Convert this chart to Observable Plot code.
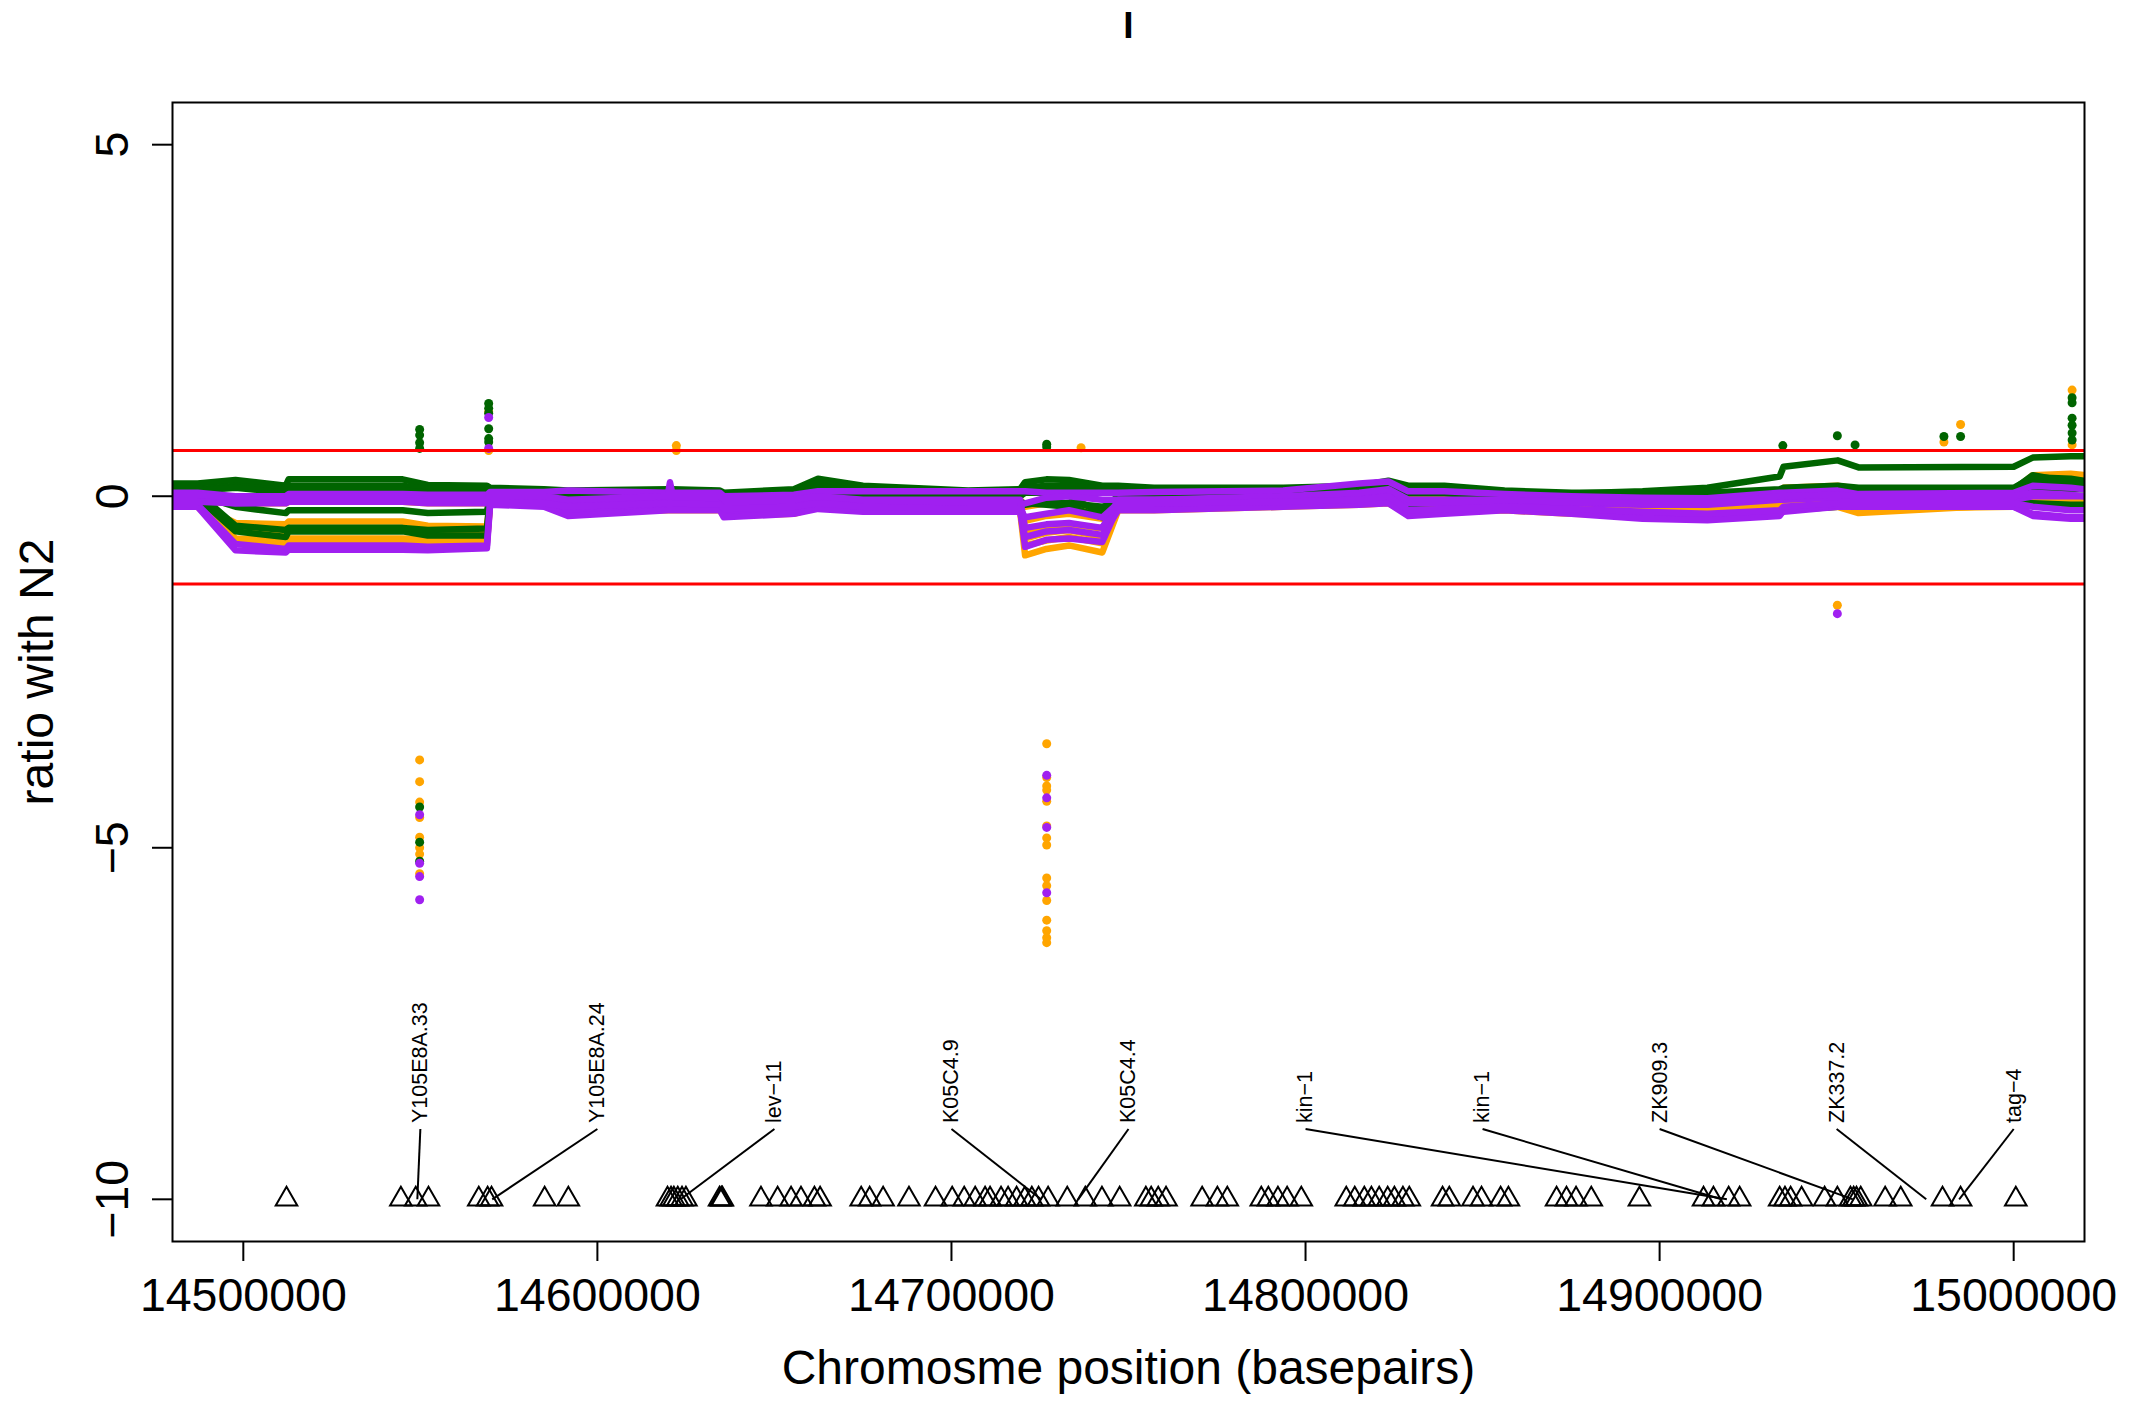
<!DOCTYPE html>
<html><head><meta charset="utf-8">
<script src="https://cdn.jsdelivr.net/npm/d3@7"></script>
<script src="https://cdn.jsdelivr.net/npm/@observablehq/plot@0.6"></script>
<style>html,body{margin:0;padding:0;background:#fff} svg{display:block}</style>
</head><body><div id="chart"></div>
<script>
// ---- data ----
const positions = [14480000, 14487100, 14497800, 14512000, 14512800, 14545000, 14552100, 14568800, 14569700, 14584900, 14591700,
 14620000, 14620500, 14621100, 14634600, 14635700, 14655500, 14662300, 14675000, 14704700, 14719400, 14720800,
 14726800, 14733200, 14742600, 14747100, 14757200, 14793700, 14815200, 14823400, 14829000, 14839200, 14856200,
 14875100, 14895200, 14913500, 14933900, 14935000, 14950300, 14956200, 15000000, 15005400, 15016100, 15020000];

const orangeA = [0.02, 0.02, -0.02, -0.02, 0.0, 0.0, -0.05, -0.05, 0.02, 0.0, -0.08,
 -0.05, -0.05, -0.05, -0.05, -0.12, -0.1, 0.05, 0.02, -0.05, -0.05, -0.15,
 -0.1, -0.1, -0.2, -0.05, -0.02, 0.0, 0.05, 0.12, 0.0, 0.0, 0.02,
 0.0, -0.02, -0.03, 0.05, 0.12, 0.15, 0.1, 0.08, 0.3, 0.32, 0.3];
const orangeB = [-0.12, -0.12, -0.38, -0.4, -0.36, -0.36, -0.42, -0.43, -0.08, -0.1, -0.2,
 -0.15, -0.15, -0.15, -0.15, -0.22, -0.2, -0.1, -0.12, -0.15, -0.15, -0.35,
 -0.28, -0.25, -0.32, -0.12, -0.1, -0.1, -0.08, -0.05, -0.15, -0.22, -0.12,
 -0.2, -0.2, -0.22, -0.18, -0.18, -0.15, -0.24, -0.12, -0.1, -0.12, -0.12];
const orangeC = [-0.05, -0.06, -0.45, -0.5, -0.48, -0.48, -0.5, -0.48, -0.05, -0.05, -0.12,
 -0.1, -0.1, -0.1, -0.1, -0.18, -0.15, -0.05, -0.05, -0.1, -0.1, -0.6,
 -0.52, -0.48, -0.58, -0.1, -0.08, -0.05, -0.02, 0.0, -0.1, -0.12, -0.08,
 -0.1, -0.1, -0.12, -0.1, -0.1, -0.05, -0.15, -0.1, -0.05, -0.05, -0.05];
const orangeD = [-0.15, -0.15, -0.65, -0.67, -0.66, -0.66, -0.67, -0.66, -0.12, -0.12, -0.22,
 -0.2, -0.2, -0.2, -0.2, -0.28, -0.25, -0.15, -0.15, -0.2, -0.22, -0.84,
 -0.75, -0.7, -0.8, -0.2, -0.2, -0.15, -0.12, -0.1, -0.25, -0.22, -0.2,
 -0.25, -0.27, -0.27, -0.22, -0.2, -0.12, -0.18, -0.15, -0.12, -0.15, -0.15];
const orangeE = [-0.08, -0.08, -0.1, -0.1, -0.08, -0.08, -0.1, -0.1, -0.08, -0.08, -0.15,
 -0.12, -0.12, -0.12, -0.12, -0.18, -0.15, -0.08, -0.1, -0.12, -0.12, -0.5,
 -0.44, -0.4, -0.46, -0.12, -0.12, -0.1, -0.08, -0.05, -0.15, -0.15, -0.1,
 -0.15, -0.18, -0.2, -0.15, -0.12, -0.08, -0.12, -0.1, -0.1, -0.1, -0.1];
const orangeF = [-0.1, -0.1, -0.6, -0.62, -0.6, -0.6, -0.62, -0.6, -0.1, -0.1, -0.18,
 -0.15, -0.15, -0.15, -0.15, -0.22, -0.2, -0.12, -0.12, -0.18, -0.18, -0.7,
 -0.63, -0.58, -0.67, -0.15, -0.15, -0.12, -0.1, -0.08, -0.2, -0.18, -0.15,
 -0.2, -0.22, -0.22, -0.18, -0.15, -0.1, -0.15, -0.12, -0.1, -0.12, -0.12];

const greenA = [0.18, 0.18, 0.23, 0.15, 0.24, 0.24, 0.16, 0.15, 0.12, 0.1, 0.08,
 0.1, 0.1, 0.1, 0.08, 0.05, 0.1, 0.25, 0.15, 0.08, 0.1, 0.2,
 0.24, 0.23, 0.15, 0.15, 0.12, 0.12, 0.15, 0.22, 0.15, 0.15, 0.08,
 0.05, 0.05, 0.05, 0.1, 0.12, 0.15, 0.12, 0.12, 0.27, 0.25, 0.22];
const greenB = [0.1, 0.1, 0.15, 0.08, 0.15, 0.15, 0.1, 0.1, 0.05, 0.05, 0.05,
 0.05, 0.05, 0.05, 0.05, 0.0, 0.05, 0.2, 0.08, 0.05, 0.05, 0.12,
 0.15, 0.15, 0.1, 0.1, 0.08, 0.08, 0.1, 0.15, 0.1, 0.1, 0.05,
 0.04, 0.07, 0.12, 0.28, 0.42, 0.51, 0.41, 0.42, 0.55, 0.57, 0.57];
const greenC = [0.0, 0.02, -0.15, -0.24, -0.2, -0.2, -0.24, -0.22, 0.0, 0.0, -0.05,
 -0.05, -0.05, -0.05, -0.05, -0.1, -0.1, 0.0, -0.05, -0.08, -0.08, -0.1,
 -0.12, -0.15, -0.3, -0.05, 0.0, 0.02, 0.02, 0.05, -0.05, -0.05, 0.0,
 -0.02, -0.05, -0.05, -0.02, 0.0, 0.02, -0.02, -0.02, 0.1, 0.1, 0.1];
const greenD = [-0.02, -0.02, -0.5, -0.58, -0.5, -0.5, -0.56, -0.56, -0.05, -0.05, -0.15,
 -0.1, -0.1, -0.1, -0.1, -0.2, -0.18, -0.05, -0.1, -0.12, -0.12, -0.12,
 -0.08, -0.1, -0.15, -0.1, -0.08, -0.05, -0.05, -0.02, -0.18, -0.2, -0.1,
 -0.2, -0.24, -0.28, -0.25, -0.2, -0.15, -0.12, -0.1, -0.1, -0.12, -0.12];
const greenE = [0.05, 0.05, -0.42, -0.48, -0.45, -0.45, -0.48, -0.46, 0.02, 0.0, -0.05,
 0.0, 0.0, 0.0, 0.0, -0.05, -0.03, 0.1, 0.02, 0.0, 0.0, 0.05,
 0.05, 0.0, -0.25, 0.02, 0.02, 0.05, 0.05, 0.1, 0.05, 0.05, 0.02,
 0.0, 0.02, 0.03, 0.08, 0.1, 0.12, 0.1, 0.1, 0.3, 0.2, 0.15];
const greenF = [0.08, 0.08, 0.12, 0.05, 0.08, 0.08, 0.05, 0.05, 0.0, 0.0, 0.0,
 0.02, 0.02, 0.02, 0.0, -0.03, 0.0, 0.15, 0.05, 0.02, 0.02, 0.05,
 0.1, 0.1, 0.05, 0.05, 0.05, 0.05, 0.08, 0.12, 0.08, 0.08, 0.02,
 0.0, 0.0, 0.0, 0.05, 0.05, 0.08, 0.05, 0.05, 0.2, 0.18, 0.15];

const purpleA = [0.05, 0.05, 0.0, 0.0, 0.03, 0.03, 0.02, 0.02, 0.06, 0.06, 0.08,
 0.05, 0.2, 0.05, 0.05, 0.0, 0.02, 0.07, 0.07, 0.07, 0.07, 0.07,
 0.05, 0.05, 0.05, 0.05, 0.06, 0.08, 0.18, 0.21, 0.07, 0.07, 0.03,
 0.0, -0.02, -0.03, 0.05, 0.05, 0.08, 0.03, 0.05, 0.15, 0.12, 0.1];
const purpleB = [-0.05, -0.05, -0.1, -0.1, -0.08, -0.08, -0.1, -0.1, -0.05, -0.05, -0.1,
 -0.08, 0.1, -0.08, -0.08, -0.12, -0.1, -0.05, -0.1, -0.12, -0.12, -0.1,
 -0.02, 0.0, -0.05, -0.05, -0.05, -0.03, 0.02, 0.05, -0.1, -0.1, -0.08,
 -0.1, -0.12, -0.12, -0.05, -0.05, -0.02, -0.05, -0.05, 0.0, 0.0, 0.0];
const purpleC = [-0.12, -0.12, -0.68, -0.75, -0.7, -0.7, -0.72, -0.7, -0.08, -0.1, -0.2,
 -0.15, 0.05, -0.15, -0.15, -0.22, -0.2, -0.15, -0.18, -0.2, -0.2, -0.72,
 -0.62, -0.6, -0.65, -0.15, -0.15, -0.12, -0.1, -0.05, -0.25, -0.2, -0.18,
 -0.22, -0.28, -0.32, -0.25, -0.22, -0.15, -0.15, -0.15, -0.25, -0.3, -0.3];
const purpleD = [-0.15, -0.15, -0.77, -0.8, -0.76, -0.76, -0.77, -0.74, -0.12, -0.15, -0.28,
 -0.2, -0.2, -0.2, -0.2, -0.3, -0.25, -0.18, -0.22, -0.22, -0.22, -0.58,
 -0.5, -0.48, -0.55, -0.2, -0.2, -0.15, -0.12, -0.1, -0.28, -0.25, -0.2,
 -0.25, -0.32, -0.34, -0.28, -0.2, -0.12, -0.15, -0.15, -0.28, -0.32, -0.32];
const purpleE = [0.02, 0.02, -0.05, -0.05, -0.02, -0.02, -0.05, -0.05, 0.0, 0.0, -0.05,
 0.0, 0.12, 0.0, 0.0, -0.05, -0.05, 0.0, -0.05, -0.05, -0.05, -0.45,
 -0.4, -0.38, -0.45, -0.05, -0.05, 0.0, 0.05, 0.1, -0.05, -0.05, -0.05,
 -0.08, -0.1, -0.1, 0.0, 0.0, 0.02, 0.0, 0.0, 0.05, 0.02, 0.0];
const purpleF = [-0.08, -0.08, -0.1, -0.08, -0.06, -0.06, -0.08, -0.08, -0.1, -0.1, -0.15,
 -0.1, -0.1, -0.1, -0.12, -0.18, -0.15, -0.1, -0.15, -0.18, -0.18, -0.3,
 -0.25, -0.2, -0.3, -0.1, -0.1, -0.08, -0.05, 0.0, -0.2, -0.18, -0.15,
 -0.18, -0.22, -0.25, -0.2, -0.15, -0.1, -0.1, -0.1, -0.15, -0.2, -0.2];

// outlier points
const orangeDotPos = [14549800,14549800,14549800,14549800,14549800,14549800,14549800,14549800,
 14569300,14569300, 14622300,14622300,
 14726900,14726900,14726900,14726900,14726900,14726900,14726900,14726900,14726900,14726900,14726900,14726900,14726900,14726900,14726900,
 14736600, 14950200, 14980300, 14985000, 15016500, 15016500];
const orangeDotVal = [-3.75,-4.06,-4.35,-4.57,-4.85,-5.0,-5.09,-5.37,
 0.65,1.2, 0.72,0.65,
 -3.52,-4.0,-4.12,-4.18,-4.34,-4.69,-4.86,-4.96,-5.43,-5.54,-5.75,-6.03,-6.18,-6.28,-6.35,
 0.69, -1.55, 0.77, 1.02, 1.51, 0.73];
const greenDotPos = [14549800,14549800,14549800,14549800,14549800,14549800,14549800,
 14569300,14569300,14569300,14569300,14569300,14569300,
 14726900,14726900, 14934800, 14950200, 14955200, 14980300, 14985000,
 15016500,15016500,15016500,15016500,15016500,15016500];
const greenDotVal = [0.95,0.87,0.76,0.68,-4.42,-4.92,-5.19,
 1.32,1.25,1.18,0.96,0.82,0.77,
 0.74,0.7, 0.72, 0.86, 0.73, 0.85, 0.85,
 1.4,1.33,1.11,1.01,0.9,0.8];
const purpleDotPos = [14549800,14549800,14549800,14549800, 14569300,14569300,
 14726900,14726900,14726900,14726900, 14950200];
const purpleDotVal = [-4.53,-5.22,-5.41,-5.74, 1.12,0.68, -3.97,-4.29,-4.71,-5.64, -1.67];

// threshold lines
const thresholds = [0.65, -1.25];

// genes (triangles at -10)
const genePositions = [14512200, 14544500, 14548700, 14552300, 14566500, 14569000, 14570100, 14585100, 14591800,
 14619800, 14620800, 14621600, 14622700, 14623900, 14625000, 14634500, 14635000, 14635300,
 14646200, 14650900, 14654700, 14657500, 14661300, 14662900,
 14674500, 14676900, 14680700, 14688000, 14695500, 14700200, 14703600, 14706700, 14709500, 14710900, 14714000,
 14716000, 14718400, 14720700, 14722700, 14724600, 14727300, 14732700, 14737800, 14742500, 14747500,
 14754900, 14756400, 14758400, 14760600, 14770800, 14775100, 14777900,
 14787500, 14789500, 14792200, 14794800, 14798800,
 14811500, 14813900, 14816600, 14818600, 14820800, 14823200, 14825100, 14827500, 14829300,
 14838700, 14840600, 14847300, 14849700, 14855100, 14857300,
 14870900, 14873700, 14876400, 14880700, 14894300,
 14912400, 14915200, 14919500, 14922600,
 14933900, 14935400, 14937000, 14940100, 14946600, 14950200, 14953900, 14954800, 14955600, 14956800,
 14963700, 14968100, 14979900, 14985000, 15000600];
const geneLevel = -10;

const geneLabels = ["Y105E8A.33","Y105E8A.24","lev\u221211","K05C4.9","K05C4.4","kin\u22121","kin\u22121","ZK909.3","ZK337.2","tag\u22124"];
const geneLabelPos = [14550000,14600000,14650000,14700000,14750000,14800000,14850000,14900000,14950000,15000000];
const geneLabelTarget = [14549150,14570300,14623500,14725300,14735800,14919000,14917500,14954600,14975300,14984600];
const labelLevel = -9;

const xTicks = [14500000,14600000,14700000,14800000,14900000,15000000];
const yTicks = [-10,-5,0,5];

// ---- build ----
function rows(groups) {
  const out = [];
  groups.forEach((vals, s) => vals.forEach((v, i) => out.push({x: positions[i], y: v, s})));
  return out;
}
const orangeRows = rows([orangeA, orangeB, orangeC, orangeD, orangeE, orangeF]);
const greenRows = rows([greenA, greenB, greenF, greenC, greenD, greenE]);
const purpleRows = rows([purpleA, purpleB, purpleC, purpleD, purpleE, purpleF]);
const dots = (p, v) => p.map((x, i) => ({x, y: v[i]}));

const labelRows = geneLabels.map((t, i) => ({t, x: geneLabelPos[i], x2: geneLabelTarget[i]}));

const font = "'Liberation Sans', Arial, Helvetica, sans-serif";
const lineOpts = {x: "x", y: "y", z: "s", strokeWidth: 6.5, strokeLinejoin: "round", strokeLinecap: "round", clip: true};

const chart = Plot.plot({
  width: 2154, height: 1406,
  marginLeft: 172, marginRight: 70, marginTop: 102, marginBottom: 165,
  style: {fontFamily: font, fontSize: "46px", color: "black", background: "white"},
  x: {domain: [14480000, 15020000]},
  y: {domain: [-10.6, 5.6]},
  marks: [
    Plot.line(orangeRows, {...lineOpts, stroke: "#FFA500"}),
    Plot.line(greenRows, {...lineOpts, stroke: "#006400"}),
    Plot.line(purpleRows, {...lineOpts, stroke: "#A020F0"}),
    Plot.dot(dots(orangeDotPos, orangeDotVal), {x: "x", y: "y", r: 4.5, fill: "#FFA500"}),
    Plot.dot(dots(greenDotPos, greenDotVal), {x: "x", y: "y", r: 4.5, fill: "#006400"}),
    Plot.dot(dots(purpleDotPos, purpleDotVal), {x: "x", y: "y", r: 4.5, fill: "#A020F0"}),
    Plot.ruleY(thresholds, {stroke: "#FF0000", strokeWidth: 3}),
    Plot.link(labelRows, {x1: "x", y1: () => labelLevel, x2: "x2", y2: () => geneLevel, stroke: "black", strokeWidth: 2}),
    Plot.dot(genePositions, {x: d => d, y: () => geneLevel, symbol: "triangle", r: 8, stroke: "black", strokeWidth: 2, fill: "none"}),
    Plot.text(labelRows, {x: "x", y: () => labelLevel, text: "t", rotate: -90, textAnchor: "start", lineAnchor: "middle", dy: -6, fontSize: 21.5, fill: "black"}),
    Plot.frame({stroke: "black", strokeWidth: 2}),
    Plot.axisX({ticks: xTicks, tickFormat: d3.format("d"), tickSize: 20, tickPadding: 16, strokeWidth: 2, fontSize: 46.5, label: null}),
    Plot.axisY({ticks: yTicks, tickSize: 20, tickPadding: 25, tickRotate: -90, strokeWidth: 2, fontSize: 46.5, label: null}),
    Plot.text(["ratio with N2"], {text: d => d, frameAnchor: "left", rotate: -90, dx: -120, lineAnchor: "bottom", textAnchor: "middle", fontSize: 48}),
    Plot.text(["Chromosme position (basepairs)"], {text: d => d, frameAnchor: "bottom", dy: 142, lineAnchor: "bottom", fontSize: 48}),
    Plot.text(["I"], {text: d => d, frameAnchor: "top", dy: -65, lineAnchor: "bottom", fontSize: 37, fontWeight: "bold"})
  ]
});
document.getElementById("chart").appendChild(chart);
</script>
</body></html>
